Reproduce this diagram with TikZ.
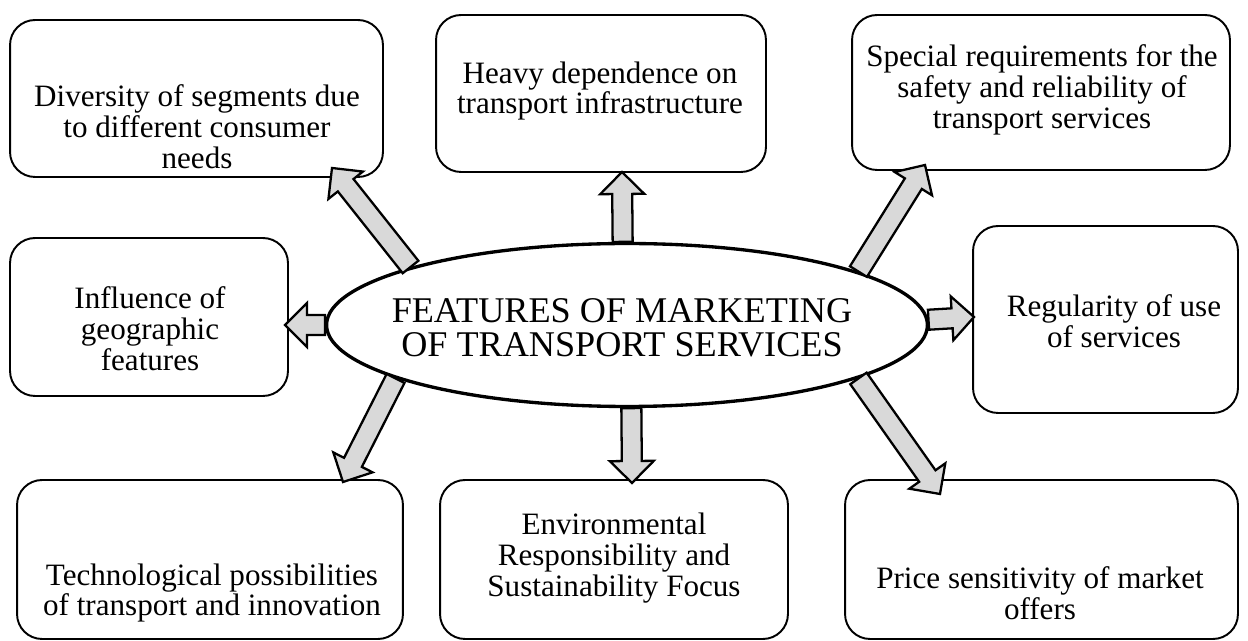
\documentclass[tikz,border=0pt]{standalone}
\usepackage{fontspec}
\setmainfont{Liberation Serif}
\usepackage{tikz}
\usetikzlibrary{shapes.geometric}
\usetikzlibrary{calc}

\definecolor{arrowgray}{HTML}{D9D9D9}
\newcommand{\arrshaft}{0.2cm}
\newcommand{\arrbarb}{0.44cm}
\newcommand{\arrhead}{0.44cm}
% block arrow from #1 to #2
\newcommand{\fatarrow}[2]{%
  \coordinate (hb) at ($(#2)!\arrhead!(#1)$);
  \draw[blockarr] ($(#1)!\arrshaft!90:(#2)$) -- ($(hb)!\arrshaft!90:(#2)$)
    -- ($(hb)!\arrbarb!90:(#2)$) -- (#2) -- ($(hb)!\arrbarb!-90:(#2)$)
    -- ($(hb)!\arrshaft!-90:(#2)$) -- ($(#1)!\arrshaft!-90:(#2)$) -- cycle;
}

\begin{document}
\begin{tikzpicture}[x=0.02cm,y=-0.02cm,
  box/.style={draw,line width=1.1pt,rounded corners=0.5cm,inner sep=0pt},
  txt/.style={align=center,font=\fontsize{17.7}{17.6}\selectfont},
  blockarr/.style={draw,line width=1.3pt,fill=arrowgray,line join=miter}]
  \useasboundingbox (0,0) rectangle (1248,641);
  % outer boxes
  \node [box,minimum width=7.46cm,minimum height=3.14cm] (b1) at (196.5,98.5) {};
  \node [box,minimum width=6.6cm,minimum height=3.14cm] (b2) at (601,93.5) {};
  \node [box,minimum width=7.56cm,minimum height=3.1cm] (b3) at (1041,92.5) {};
  \node [box,minimum width=5.56cm,minimum height=3.16cm] (b4) at (149,317) {};
  \node [box,minimum width=5.3cm,minimum height=3.74cm] (b5) at (1105.5,319.5) {};
  \node [box,minimum width=7.72cm,minimum height=3.18cm] (b6) at (210,559.5) {};
  \node [box,minimum width=6.96cm,minimum height=3.18cm] (b7) at (614,559.5) {};
  \node [box,minimum width=7.86cm,minimum height=3.18cm] (b8) at (1041.5,559.5) {};
  \node [txt] (t1) at (197,127) {Diversity of segments due\\to different consumer\\needs};
  \node [txt] (t2) at (600,91) {Heavy dependence on\\transport infrastructure};
  \node [txt] (t3) at (1042,90) {Special requirements for the\\safety and reliability of\\transport services};
  \node [txt] (t4) at (150,329) {Influence of\\geographic\\features};
  \node [txt] (t5) at (1114,321) {Regularity of use\\of services};
  \node [txt] (t6) at (212,593) {Technological possibilities\\of transport and innovation};
  \node [txt] (t7) at (614,558) {Environmental\\Responsibility and\\Sustainability Focus};
  \node [txt] (t8) at (1040,593) {Price sensitivity of market\\offers};
  % centre
  \node [ellipse,draw,line width=1.9pt,inner sep=0pt,minimum width=12.02cm,minimum height=3.26cm] (feat) at (627,325) {};
  \node [align=center,font=\fontsize{20.6}{19.5}\selectfont] (ftxt) at (622,328) {FEATURES OF MARKETING\\OF TRANSPORT SERVICES};
  % arrow tips
  \coordinate (e1) at (332,168);
  \coordinate (e2) at (622,172);
  \coordinate (e3) at (925,165);
  \coordinate (e4) at (285,325);
  \coordinate (e5) at (974,317);
  \coordinate (e6) at (343,482);
  \coordinate (e7) at (632,483);
  \coordinate (e8) at (940,494);
  \fatarrow{feat.165}{e1}
  \fatarrow{feat.93.5}{e2}
  \fatarrow{feat.13.1}{e3}
  \fatarrow{feat.180}{e4}
  \fatarrow{feat.1.5}{e5}
  \fatarrow{feat.193}{e6}
  \fatarrow{feat.273.5}{e7}
  \fatarrow{feat.347.2}{e8}
\end{tikzpicture}
\end{document}
